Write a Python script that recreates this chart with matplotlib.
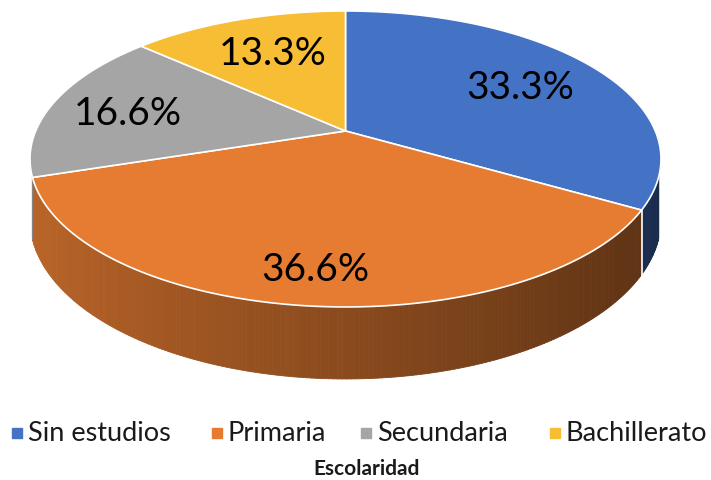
import numpy as np
import matplotlib
matplotlib.use("Agg")
import matplotlib.pyplot as plt
from matplotlib.collections import PolyCollection
from matplotlib.colors import to_rgb

# data
categories = ["Sin estudios", "Primaria", "Secundaria", "Bachillerato"]
values = [33.3, 36.6, 16.6, 13.3]
labels = ["33.3%", "36.6%", "16.6%", "13.3%"]
colors = ["#4472C4", "#E67C31", "#A5A5A5", "#F7BD35"]
title = "Escolaridad"

plt.rcParams['font.family'] = ['Lato', 'DejaVu Sans']

# projection of the 3D disc (perspective, pixel coords)
cx, cy = 345.5, 132.0
k = 0.189       # perspective strength
A = 309.8       # horizontal radius
B = 142.7       # vertical radius (tilt)
thick = 58.4    # side height
side_from = 0.3  # side wall only drawn for the front part


def proj(theta, z=0.0):
    # theta measured clockwise from the back (12 o'clock)
    X = np.sin(theta)
    Y = -np.cos(theta)
    w = 1 - k * Y
    return cx + A * X / w, cy + (B * Y + z * thick) / w


fig = plt.figure(figsize=(7.11, 4.81), dpi=100)
ax = fig.add_axes([0, 0, 1, 1])
ax.set_xlim(0, 711)
ax.set_ylim(481, 0)
ax.axis('off')

total = sum(values)
bounds = np.concatenate([[0], np.cumsum(values)]) / total * 2 * np.pi

# side walls
polys, fcols = [], []
for i, c in enumerate(colors):
    t = np.linspace(bounds[i], bounds[i + 1], 200)
    base = np.array(to_rgb(c))
    for a, b in zip(t[:-1], t[1:]):
        if -np.cos((a + b) / 2) < side_from:
            continue
        x0, y0 = proj(a)
        x1, y1 = proj(b)
        x2, y2 = proj(b, 1)
        x3, y3 = proj(a, 1)
        polys.append([(x0, y0), (x1, y1), (x2, y2), (x3, y3)])
        X = np.sin((a + b) / 2)
        f = 0.6 - 0.22 * X
        fcols.append(tuple(base * f))
pc = PolyCollection(polys, facecolors=fcols, edgecolors=fcols, linewidths=0.6)
ax.add_collection(pc)

# white edges on the side at slice boundaries
for b in bounds[1:-1]:
    if -np.cos(b) > side_from + 0.05:
        x0, y0 = proj(b)
        x1, y1 = proj(b, 1)
        ax.plot([x0, x1], [y0, y1], color='white', lw=1.2)

# top faces
for i, c in enumerate(colors):
    t = np.linspace(bounds[i], bounds[i + 1], 200)
    xs, ys = proj(t)
    verts = [(cx, cy)] + list(zip(xs, ys))
    ax.fill([v[0] for v in verts], [v[1] for v in verts], facecolor=c,
            edgecolor='white', linewidth=1.2, joinstyle='round')

# data labels
label_pos = [(520, 88), (315, 270), (128, 114), (273, 54)]
for (lx, ly), txt in zip(label_pos, labels):
    ax.text(lx, ly, txt, fontsize=28, ha='center', va='center', color='black')

# legend
leg_y = 434
leg_x = [12, 212, 361, 550]
for x, c, name in zip(leg_x, colors, categories):
    ax.plot(x + 5, leg_y, marker='s', markersize=7, color=c, linestyle='none')
    ax.text(x + 16, leg_y, name, fontsize=19.5, ha='left', va='center', color='#1a1a1a')

ax.text(367, 469, title, fontsize=15, fontweight='bold', ha='center', va='center',
        color='#1a1a1a')

plt.savefig("out.png", dpi=100)
